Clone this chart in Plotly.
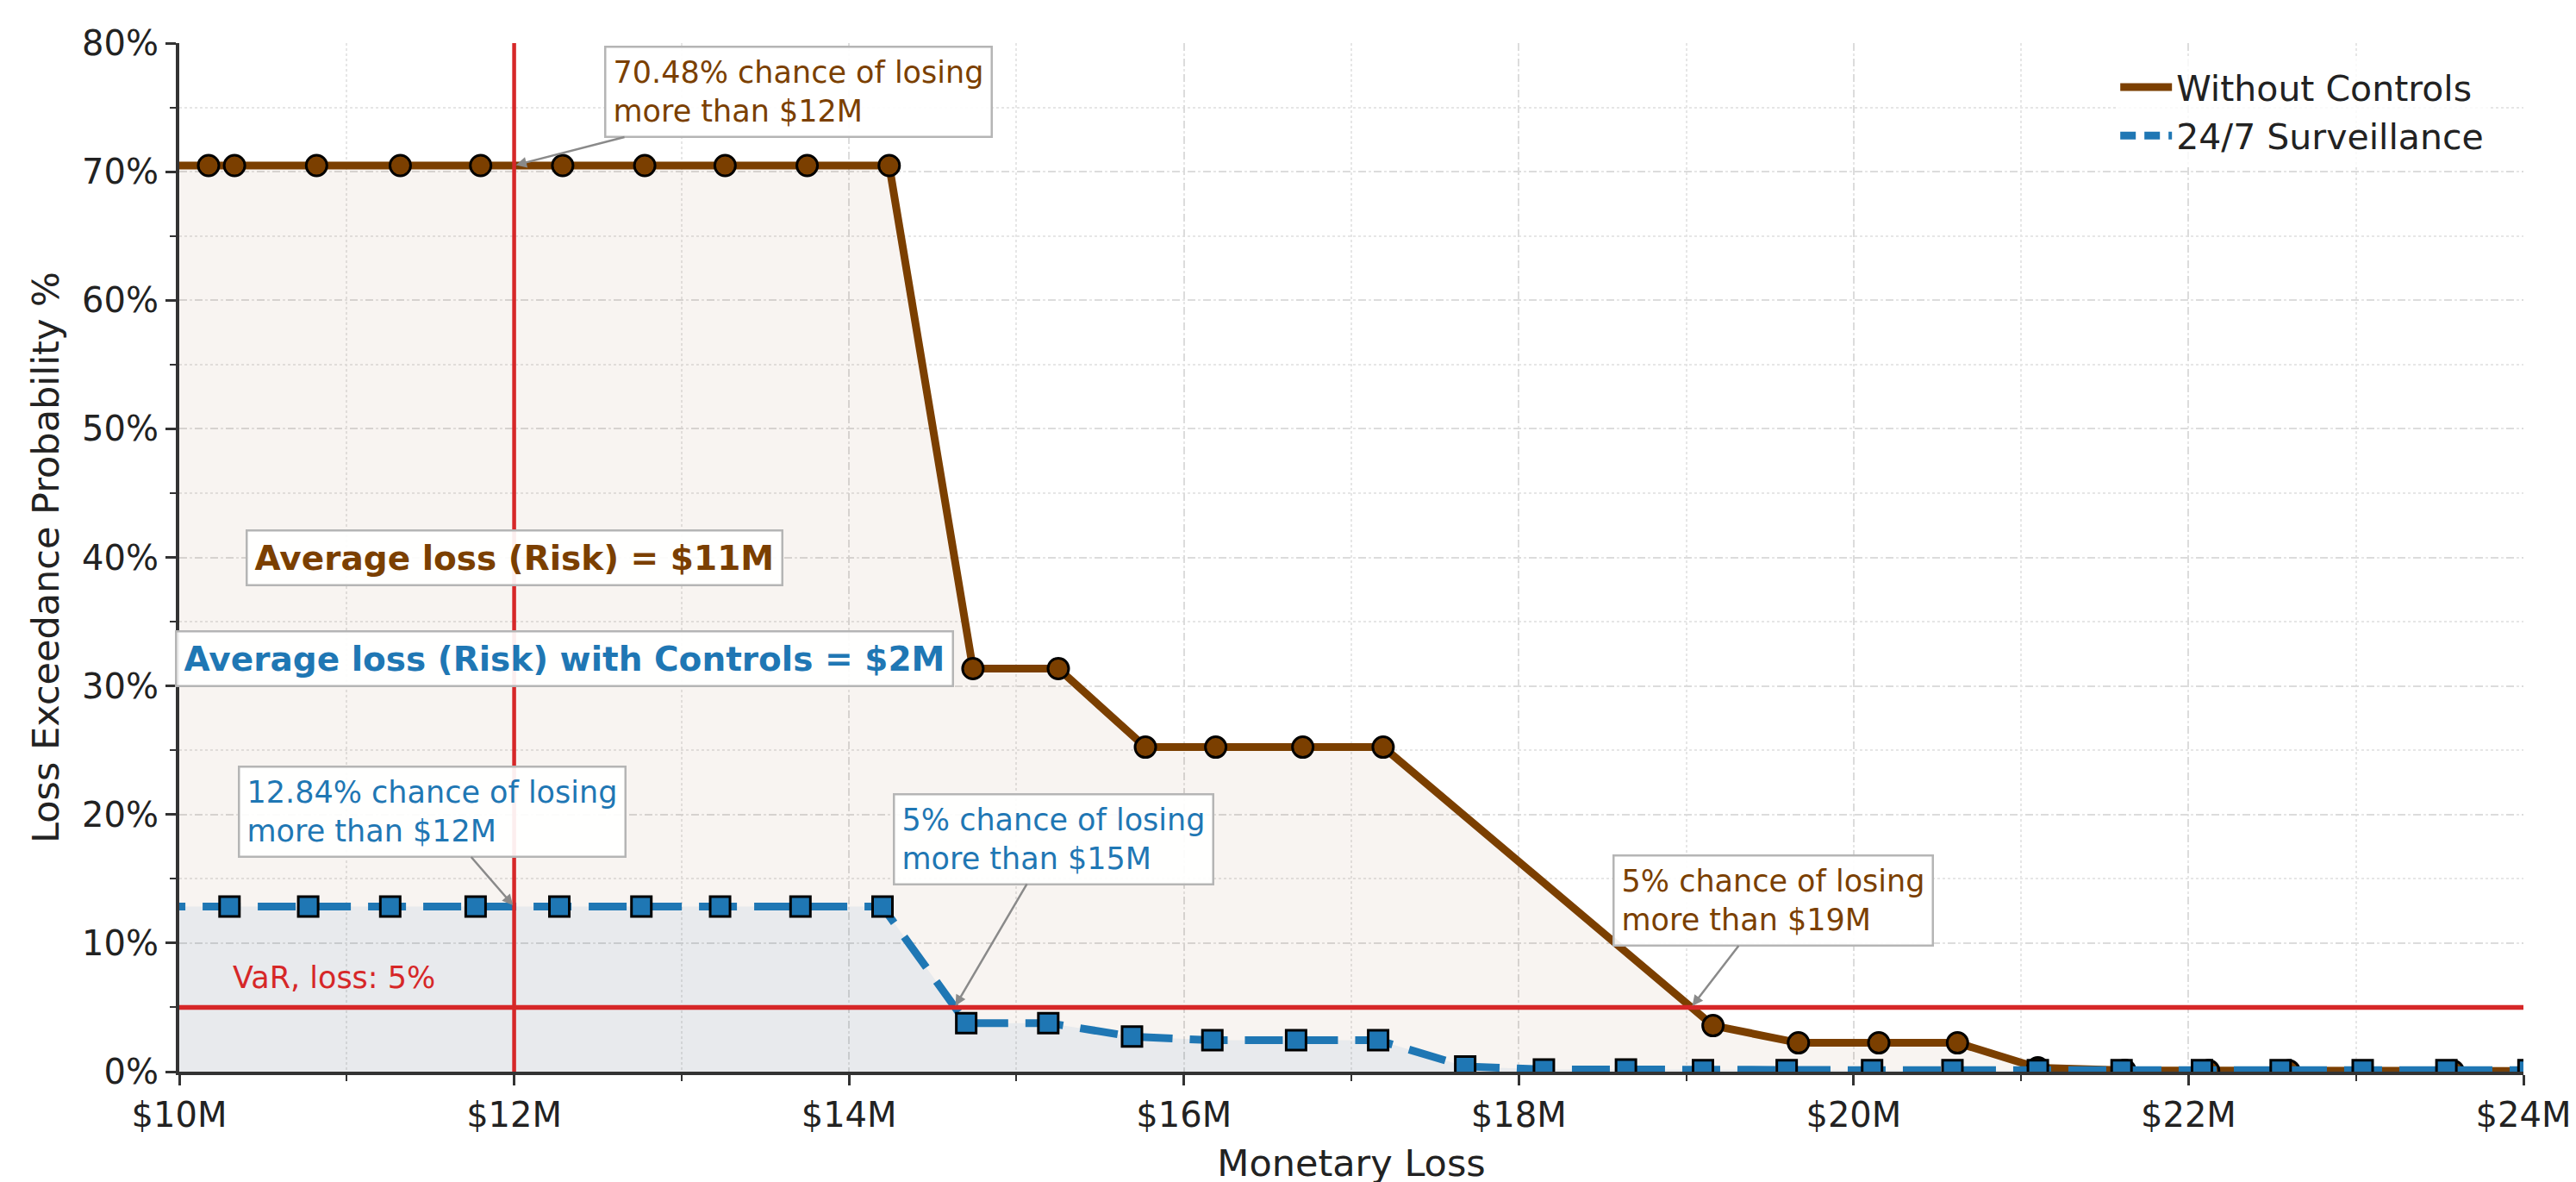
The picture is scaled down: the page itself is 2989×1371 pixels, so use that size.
"""
Loss exceedance curve: without controls vs. 24/7 surveillance.
"""

import plotly.graph_objects as go

# loss in $M, exceedance probability in %
loss_without = [9.69, 10.175, 10.33, 10.82, 11.32, 11.80, 12.29, 12.78, 13.26, 13.75, 14.24,
                14.74, 15.25, 15.77, 16.19, 16.71, 17.19, 19.16, 19.67, 20.15, 20.62,
                21.10, 21.62, 22.12, 22.60, 23.58, 24.07]
prob_without = [70.48, 70.48, 70.48, 70.48, 70.48, 70.48, 70.48, 70.48, 70.48, 70.48, 70.48,
                31.35, 31.35, 25.24, 25.24, 25.24, 25.24, 3.58, 2.24, 2.24, 2.24,
                0.30, 0.10, 0.08, 0.06, 0.05, 0.05]

loss_controls = [9.81, 10.30, 10.77, 11.26, 11.77, 12.27, 12.76, 13.23, 13.71, 14.20,
                 14.70, 15.19, 15.69, 16.17, 16.67, 17.16, 17.68, 18.15, 18.64, 19.10,
                 19.60, 20.11, 20.59, 21.10, 21.60, 22.08, 22.55, 23.04, 23.54, 24.03]
prob_controls = [12.84, 12.84, 12.84, 12.84, 12.84, 12.84, 12.84, 12.84, 12.84, 12.84,
                 3.78, 3.78, 2.73, 2.44, 2.44, 2.44, 0.41, 0.17, 0.17, 0.12,
                 0.12, 0.12, 0.12, 0.12, 0.12, 0.12, 0.12, 0.12, 0.12, 0.12]

x_ticks = [10, 12, 14, 16, 18, 20, 22, 24]
y_ticks = [0, 10, 20, 30, 40, 50, 60, 70, 80]
x_ticklabels = ["$%dM" % v for v in x_ticks]
y_ticklabels = ["%d%%" % v for v in y_ticks]

var_loss = 12       # $M, vertical marker
var_prob = 5        # %, horizontal marker

BROWN = "#7b3f00"
BLUE = "#1f77b4"
RED = "#d62728"
FONT = "DejaVu Sans"

fig = go.Figure()

fig.add_trace(go.Scatter(
    x=loss_without, y=prob_without, mode="lines+markers", name="Without Controls",
    line=dict(color=BROWN, width=9),
    marker=dict(symbol="circle", size=24, color=BROWN, line=dict(color="black", width=3)),
    fill="tozeroy", fillcolor="rgba(123,63,0,0.055)", showlegend=False,
))
fig.add_trace(go.Scatter(
    x=loss_controls, y=prob_controls, mode="lines+markers", name="24/7 Surveillance",
    line=dict(color=BLUE, width=9, dash="44px,20px"),
    marker=dict(symbol="square", size=23, color=BLUE, line=dict(color="black", width=3)),
    fill="tozeroy", fillcolor="rgba(31,119,180,0.07)", showlegend=False,
))

# legend entries without markers, like the original
fig.add_trace(go.Scatter(x=[None], y=[None], mode="lines", name="Without Controls",
                         line=dict(color=BROWN, width=9)))
fig.add_trace(go.Scatter(x=[None], y=[None], mode="lines", name="24/7 Surveillance",
                         line=dict(color=BLUE, width=9, dash="18px,10px")))

fig.add_shape(type="line", xref="x", yref="paper", x0=var_loss, x1=var_loss, y0=0, y1=1,
              line=dict(color=RED, width=4.5), layer="above")
fig.add_shape(type="line", xref="paper", yref="y", x0=0, x1=1, y0=var_prob, y1=var_prob,
              line=dict(color=RED, width=5.5), layer="above")

box = dict(bgcolor="rgba(255,255,255,0.92)", bordercolor="#b5b5b5", borderwidth=2.5,
           borderpad=8, align="left")
arrow = dict(showarrow=True, arrowhead=2, arrowsize=1, arrowwidth=2.5, arrowcolor="#8a8a8a",
             axref="x", ayref="y", standoff=2)

fig.add_annotation(x=12, y=70.48, ax=13.70, ay=76.2,
                   text="70.48% chance of losing<br>more than $12M",
                   font=dict(family=FONT, size=35, color=BROWN), **box, **arrow)
fig.add_annotation(x=12, y=12.84, ax=11.51, ay=20.2,
                   text="12.84% chance of losing<br>more than $12M",
                   font=dict(family=FONT, size=35, color=BLUE), **box, **arrow)
fig.add_annotation(x=14.63, y=5, ax=15.22, ay=18.1,
                   text="5% chance of losing<br>more than $15M",
                   font=dict(family=FONT, size=35, color=BLUE), **box, **arrow)
fig.add_annotation(x=19.03, y=5, ax=19.52, ay=13.3,
                   text="5% chance of losing<br>more than $19M",
                   font=dict(family=FONT, size=35, color=BROWN), **box, **arrow)

fig.add_annotation(x=12.0, y=40.0, showarrow=False,
                   text="<b>Average loss (Risk) = $11M</b>",
                   font=dict(family=FONT, size=39, color=BROWN), **box)
fig.add_annotation(x=12.3, y=32.1, showarrow=False,
                   text="<b>Average loss (Risk) with Controls = $2M</b>",
                   font=dict(family=FONT, size=39, color=BLUE), **box)

fig.add_annotation(x=10.31, y=7.3, xanchor="left", showarrow=False,
                   text="VaR, loss: 5%", font=dict(family=FONT, size=35, color=RED))

axis_common = dict(
    showline=True, linecolor="#333333", linewidth=4,
    ticks="outside", ticklen=12, tickwidth=3, tickcolor="#333333",
    showgrid=True, gridcolor="#dcdcdc", gridwidth=2, griddash="dash",
    zeroline=False, tickfont=dict(family=FONT, size=40, color="#222222"),
)

fig.update_xaxes(
    range=[10, 24], tickmode="array", tickvals=x_ticks, ticktext=x_ticklabels,
    title=dict(text="Monetary Loss", font=dict(family=FONT, size=43, color="#222222"), standoff=20),
    minor=dict(dtick=1, ticks="outside", ticklen=7, tickwidth=2, tickcolor="#333333",
               showgrid=True, gridcolor="#e6e6e6", gridwidth=2, griddash="dot"),
    **axis_common,
)
fig.update_yaxes(
    range=[0, 80], tickmode="array", tickvals=y_ticks, ticktext=y_ticklabels,
    title=dict(text="Loss Exceedance Probability %", font=dict(family=FONT, size=43, color="#222222"),
               standoff=14),
    minor=dict(dtick=5, ticks="outside", ticklen=7, tickwidth=2, tickcolor="#333333",
               showgrid=True, gridcolor="#e6e6e6", gridwidth=2, griddash="dot"),
    **axis_common,
)

fig.update_layout(
    width=2989, height=1371,
    margin=dict(l=200, r=69, t=42, b=136),
    paper_bgcolor="white", plot_bgcolor="white",
    font=dict(family=FONT),
    legend=dict(x=0.985, y=0.985, xanchor="right", yanchor="top", bgcolor="rgba(255,255,255,0.8)",
                font=dict(family=FONT, size=41, color="#222222"), itemwidth=60,
                tracegroupgap=10),
)

fig.write_html("out.html")
